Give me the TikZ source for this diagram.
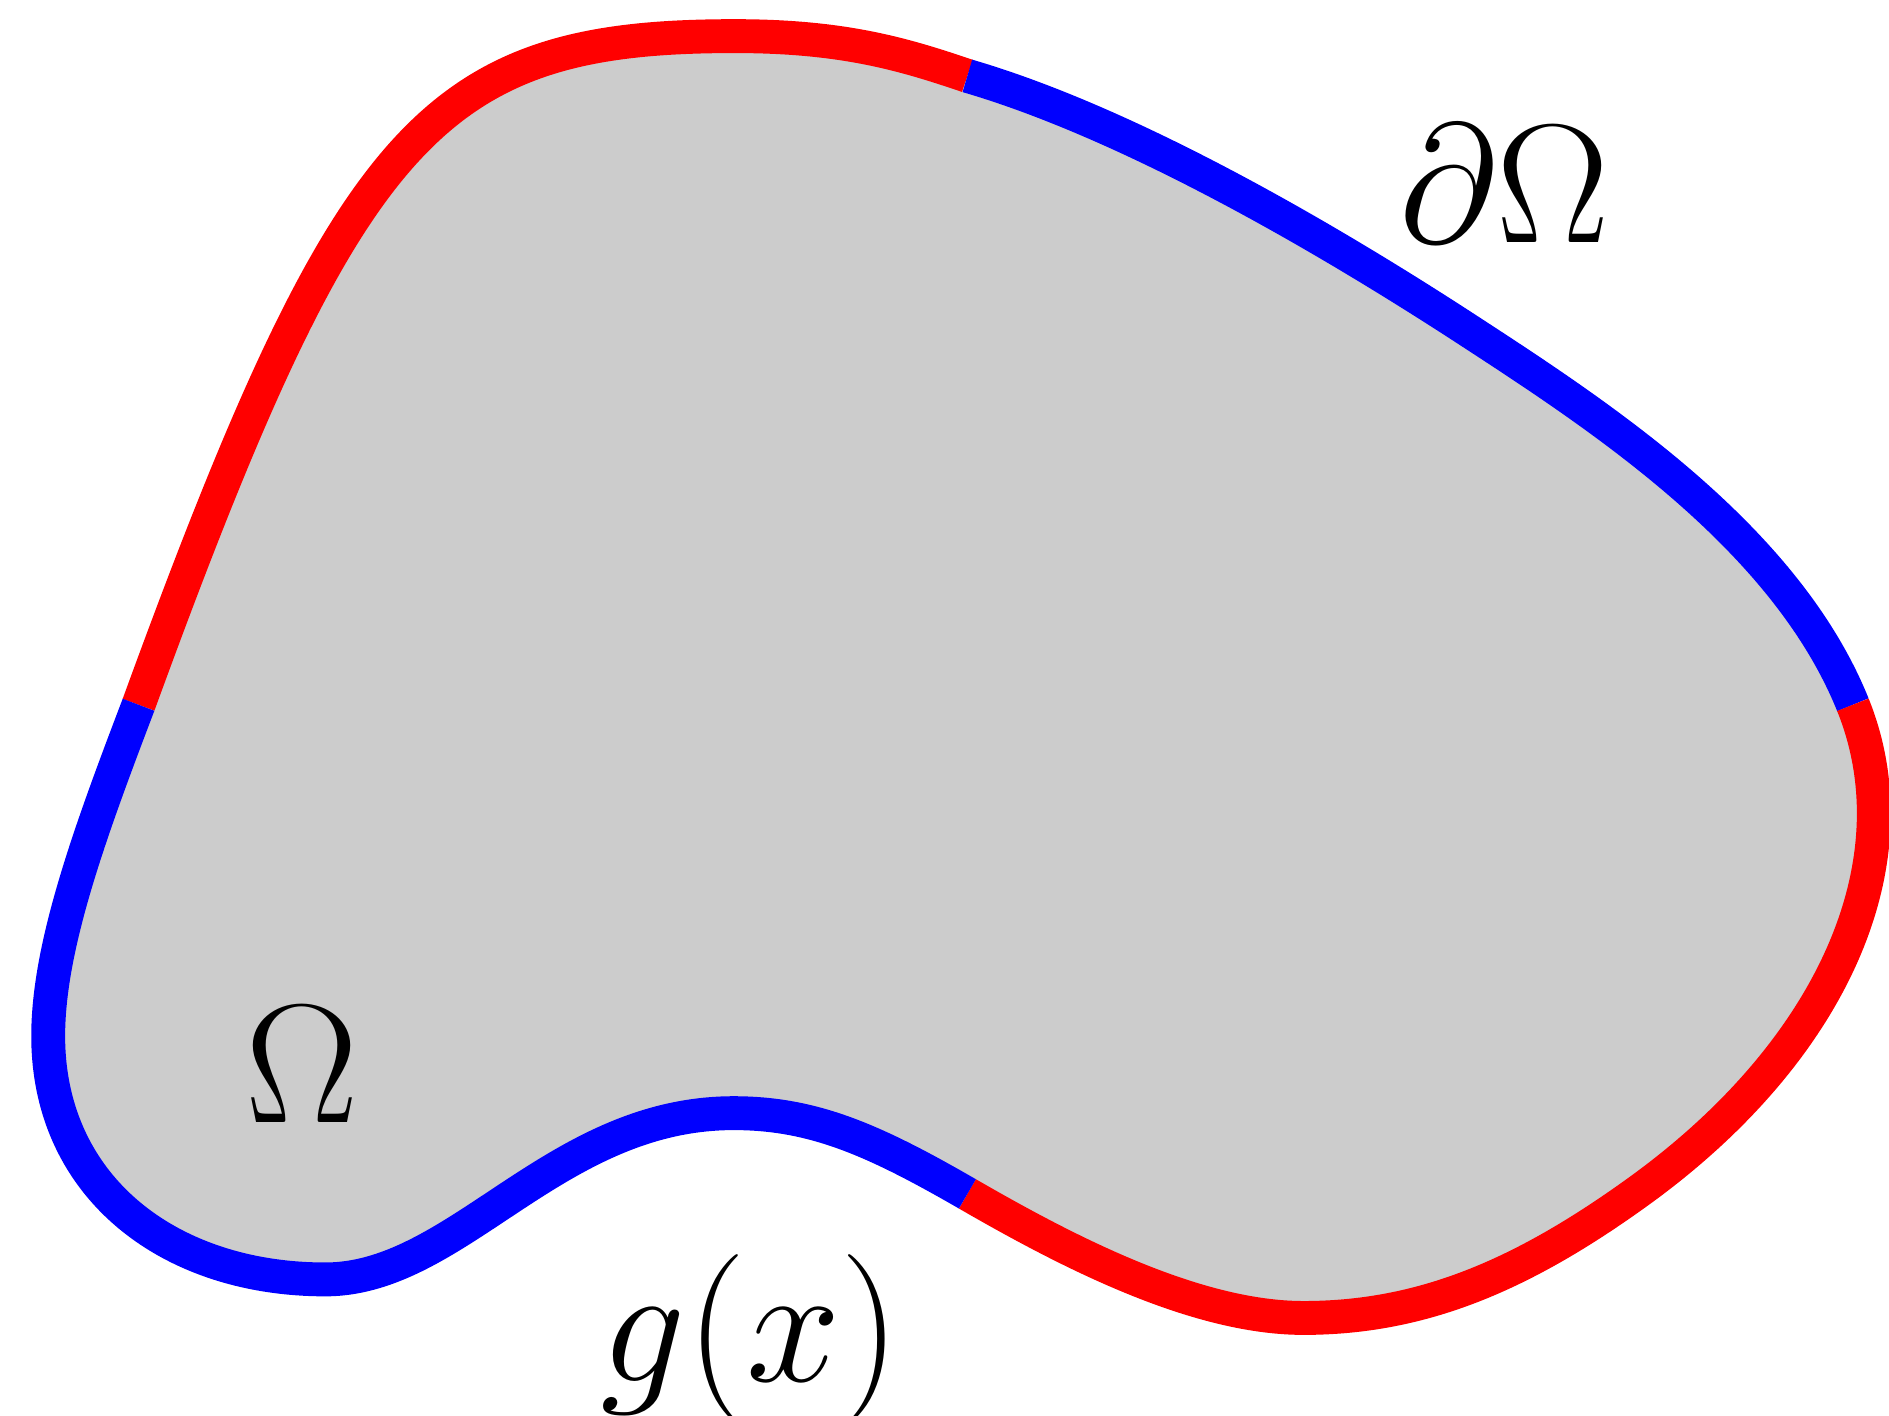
\documentclass[tikz,border=0pt]{standalone}
\usepackage{amsmath}
\usepackage{xcolor}
\usepackage{tikz}
\definecolor{bdred}{RGB}{255,0,0}
\definecolor{bdblue}{RGB}{0,0,255}
\definecolor{domgray}{RGB}{204,204,204}
\tikzset{
  bdline/.style={line width=8pt, line cap=butt},
  biglabel/.style={inner sep=0pt, anchor=base, font=\Huge, scale=1.608, transform shape}
}

\begin{document}
\begin{tikzpicture}
\useasboundingbox (0,0) rectangle (15.68,11.75);
% junctions of the boundary pieces
\coordinate (jl) at (1.15,5.9);
\coordinate (jt) at (8.03,11.12);
\coordinate (jr) at (15.38,5.9);
\coordinate (jb) at (8.03,1.84);
% the domain
\fill[domgray] (jl) .. controls (2.9,10.7) and (3.6,11.45) .. (6.1,11.45)
  .. controls (7.0,11.45) and (7.5,11.3) .. (jt)
  .. controls (9.4,10.72) and (11.05,9.75) .. (12.2,9.0)
  .. controls (13.29,8.29) and (14.82,7.29) .. (jr)
  .. controls (15.905,4.6) and (15.22,3.03) .. (13.6,1.86)
  .. controls (12.63,1.16) and (11.8,0.81) .. (10.82,0.81)
  .. controls (9.9,0.81) and (8.81,1.39) .. (jb)
  .. controls (7.25,2.29) and (6.75,2.51) .. (6.09,2.51)
  .. controls (4.6,2.51) and (3.8,1.13) .. (2.7,1.13)
  .. controls (1.4,1.13) and (0.4,1.9) .. (0.4,3.15)
  .. controls (0.4,3.9) and (0.75,4.85) .. (jl) -- cycle;
% boundary
\draw[bdline, bdred] (jl) .. controls (2.9,10.7) and (3.6,11.45) .. (6.1,11.45)
  .. controls (7.0,11.45) and (7.5,11.3) .. (jt);
\draw[bdline, bdblue] (jt) .. controls (9.4,10.72) and (11.05,9.75) .. (12.2,9.0)
  .. controls (13.29,8.29) and (14.82,7.29) .. (jr);
\draw[bdline, bdred] (jr) .. controls (15.905,4.6) and (15.22,3.03) .. (13.6,1.86)
  .. controls (12.63,1.16) and (11.8,0.81) .. (10.82,0.81)
  .. controls (9.9,0.81) and (8.81,1.39) .. (jb);
\draw[bdline, bdblue] (jb) .. controls (7.25,2.29) and (6.75,2.51) .. (6.09,2.51)
  .. controls (4.6,2.51) and (3.8,1.13) .. (2.7,1.13)
  .. controls (1.4,1.13) and (0.4,1.9) .. (0.4,3.15)
  .. controls (0.4,3.9) and (0.75,4.85) .. (jl);
% labels
\node[biglabel] (bd) at (12.49,9.74) {$\partial\Omega$};
\node[biglabel] (dom) at (2.51,2.43) {$\Omega$};
\node[biglabel] (gx) at (6.23,0.28) {$g(x)$};
\end{tikzpicture}
\end{document}
